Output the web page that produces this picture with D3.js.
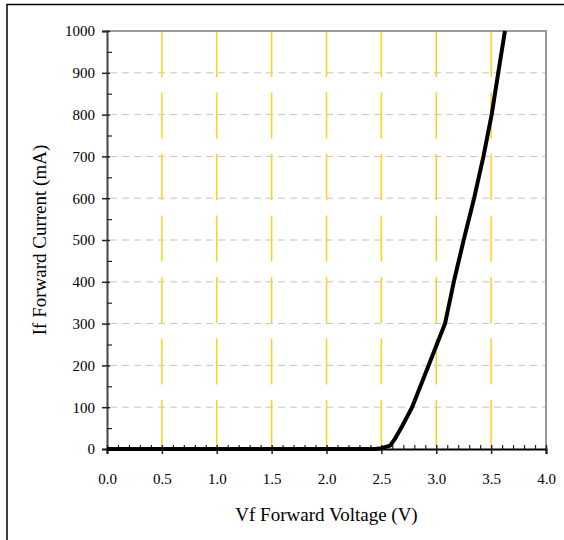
<!DOCTYPE html>
<html>
<head>
<meta charset="utf-8">
<script src="https://cdn.jsdelivr.net/npm/d3@7"></script>
<style>
  body { margin: 0; background: #fff; }
  svg { display: block; }
  text { font-family: "Liberation Serif", "Times New Roman", serif; }
</style>
</head>
<body>
<div id="chart"></div>
<script>
// forward voltage (V) vs forward current (mA)
let voltage = [0, 1.0, 2.0, 2.45, 2.5, 2.58, 2.625, 2.69, 2.78, 2.93, 3.08, 3.16, 3.25, 3.345, 3.43, 3.505, 3.565, 3.626];
let current = [0, 0, 0, 0, 2, 8, 25, 55, 100, 200, 300, 400, 500, 600, 700, 800, 900, 1000];

let xTicks = [0, 0.5, 1.0, 1.5, 2.0, 2.5, 3.0, 3.5, 4.0];
let yTicks = [0, 100, 200, 300, 400, 500, 600, 700, 800, 900, 1000];

let width = 564, height = 540;
let mLeft = 107, mRight = 546, mTop = 31, mBottom = 449;
let serif = "'Liberation Serif', 'Times New Roman', serif";

let svg = d3.select("#chart").append("svg")
	.attr("width", width)
	.attr("height", height);

// outer frame (only top and left visible in the crop)
svg.append("path")
	.attr("d", "M7,540 L7,4.5 L564,4.5")
	.attr("fill", "none")
	.attr("stroke", "#000")
	.attr("stroke-width", 1.5);

let x = d3.scaleLinear().domain([0, 4]).range([mLeft, mRight]);
let y = d3.scaleLinear().domain([0, 1000]).range([mBottom, mTop]);

// horizontal dashed grid
svg.append("g")
	.selectAll("line")
	.data(yTicks.filter(d => d > 0 && d < 1000))
	.enter()
	.append("line")
	.attr("x1", mLeft + 3)
	.attr("x2", mRight)
	.attr("y1", d => y(d))
	.attr("y2", d => y(d))
	.attr("stroke", "#c4c4c4")
	.attr("stroke-width", 1)
	.attr("stroke-dasharray", "7,5");

// yellow vertical grid
svg.append("g")
	.selectAll("line")
	.data(xTicks.filter(d => d > 0 && d < 4))
	.enter()
	.append("line")
	.attr("x1", d => x(d))
	.attr("x2", d => x(d))
	.attr("y1", mTop)
	.attr("y2", mBottom)
	.attr("stroke", "#ffd11a")
	.attr("stroke-width", 1.5)
	.attr("stroke-dasharray", "46,15.5");

// plot top and right border
svg.append("path")
	.attr("d", `M${mLeft},${mTop} L${mRight},${mTop} L${mRight},${mBottom}`)
	.attr("fill", "none")
	.attr("stroke", "#999")
	.attr("stroke-width", 2);

// y axis
let yAxis = svg.append("g")
	.attr("transform", `translate(${mLeft},0)`)
	.call(d3.axisLeft(y).tickValues(yTicks).tickFormat(d3.format("d")).tickSize(5).tickPadding(7))
	.attr("font-family", serif)
	.attr("font-size", 15);
yAxis.select(".domain").attr("stroke", "#444").attr("stroke-width", 2);
yAxis.selectAll(".tick line").attr("x1", 3).attr("stroke", "#222").attr("stroke-width", 1.5);
yAxis.selectAll("text").attr("fill", "#000");

let yMinor = svg.append("g")
	.attr("transform", `translate(${mLeft},0)`)
	.call(d3.axisLeft(y).tickValues(d3.range(50, 1000, 100)).tickSize(-5).tickFormat(""));
yMinor.select(".domain").remove();
yMinor.selectAll(".tick line").attr("stroke", "#222").attr("stroke-width", 1.2);

// x axis
let xMinor = svg.append("g")
	.attr("transform", `translate(0,${mBottom})`)
	.call(d3.axisBottom(x).tickValues(d3.range(1, 40).filter(d => d % 5 != 0).map(d => d / 10)).tickSize(-4).tickFormat(""));
xMinor.select(".domain").remove();
xMinor.selectAll(".tick line").attr("stroke", "#222").attr("stroke-width", 1.2);

let xAxis = svg.append("g")
	.attr("transform", `translate(0,${mBottom})`)
	.call(d3.axisBottom(x).tickValues(xTicks).tickFormat(d3.format(".1f")).tickSize(5))
	.attr("font-family", serif)
	.attr("font-size", 15);
xAxis.select(".domain").attr("stroke", "#000").attr("stroke-width", 2);
xAxis.selectAll(".tick line").attr("y1", -4).attr("stroke", "#222").attr("stroke-width", 1.5);
xAxis.selectAll("text").attr("fill", "#000").attr("y", 24);

// curve
let line = d3.line()
	.x((d, i) => x(voltage[i]))
	.y(d => y(d));

svg.append("path")
	.datum(current)
	.attr("d", line)
	.attr("fill", "none")
	.attr("stroke", "#000")
	.attr("stroke-width", 4)
	.attr("stroke-linejoin", "round");

// titles
svg.append("text")
	.attr("x", (mLeft + mRight) / 2)
	.attr("y", 521)
	.attr("text-anchor", "middle")
	.attr("font-size", 19)
	.text("Vf Forward Voltage (V)");

svg.append("text")
	.attr("transform", `translate(46,${(mTop + mBottom) / 2}) rotate(-90)`)
	.attr("text-anchor", "middle")
	.attr("font-size", 19)
	.text("If Forward Current (mA)");
</script>
</body>
</html>
